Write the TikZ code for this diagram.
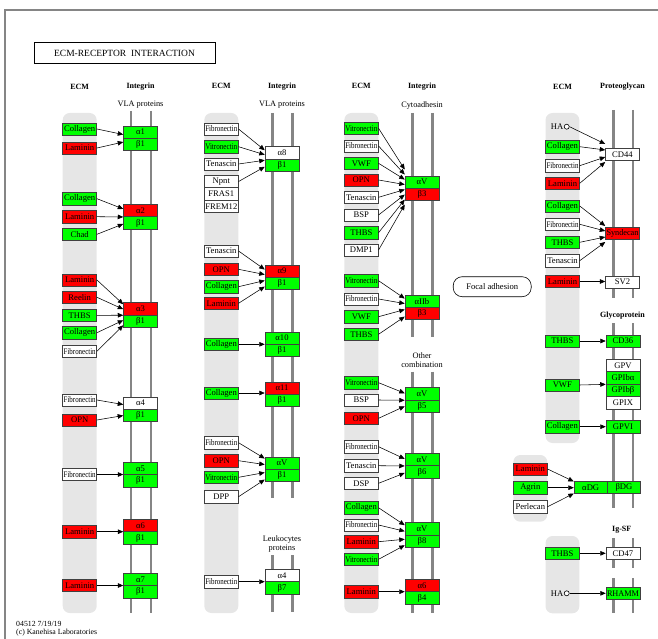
\documentclass[tikz,border=0pt]{standalone}
\usepackage{graphicx}
\usepackage{fontspec}
\setmainfont{Liberation Serif}
\usetikzlibrary{arrows.meta,calc}
\definecolor{kgreen}{HTML}{00FF00}
\definecolor{kred}{HTML}{FF0000}
\definecolor{kband}{HTML}{E6E6E6}
\definecolor{kline}{HTML}{858585}
\definecolor{kedge}{HTML}{404040}
\newsavebox\kfitbox
\newcommand\kfit[1]{\sbox\kfitbox{#1}\ifdim\wd\kfitbox>32pt\resizebox{32pt}{\ht\kfitbox}{\usebox\kfitbox}\else\usebox\kfitbox\fi}
\tikzset{
  kbox/.style={draw=kedge, line width=0.5pt, minimum width=34pt, minimum height=12.4pt, inner sep=0pt, font=\fontsize{8.6}{9}\selectfont},
  gbox/.style={kbox, fill=kgreen},
  rbox/.style={kbox, fill=kred},
  wbox/.style={kbox, fill=white},
  band/.style={fill=kband, draw=none, rounded corners=7pt},
  memb/.style={draw=kline, line width=2.4pt},
  arr/.style={draw=black, line width=0.55pt, -{Triangle[length=5.5pt,width=4.6pt]}},
  hdr/.style={font=\fontsize{8}{9}\selectfont\bfseries, inner sep=0pt},
  sublab/.style={font=\fontsize{8.3}{8.7}\selectfont, align=center, inner sep=0pt},
  hacirc/.style={circle, draw=black, fill=white, line width=0.6pt, minimum size=5pt, inner sep=0pt},
}
\begin{document}
\begin{tikzpicture}[x=1pt,y=-1pt]
\useasboundingbox (0,0) rectangle (658,639);
% frame
\draw[kline, line width=1.3pt] (5,639) -- (5,10) -- (658,10);
% title
\node[draw=black, line width=0.8pt, minimum width=181pt, minimum height=20.6pt, inner sep=0pt, font=\fontsize{9.5}{10}\selectfont] (title) at (124.5,53) {ECM-RECEPTOR\ \ INTERACTION};
% bands
\fill[band] (62.7,113) rectangle (96.7,613);
\fill[band] (204.3,113) rectangle (238.3,613);
\fill[band] (344.3,113) rectangle (378.3,613);
\fill[band] (545.5,113) rectangle (579.3,443);
\fill[band] (513.3,455) rectangle (547.3,521.7);
\fill[band] (545.5,536) rectangle (579.3,613.3);
% membranes
\foreach \x in {131,151}{\draw[memb] (\x,111) -- (\x,613);}
\foreach \x in {272.3,292.3}{\draw[memb] (\x,113) -- (\x,498); \draw[memb] (\x,555) -- (\x,612);}
\foreach \x in {412.3,432.3}{\draw[memb] (\x,113) -- (\x,336.5); \draw[memb] (\x,371.5) -- (\x,613);}
\foreach \x in {613.3,632.7}{\draw[memb] (\x,110) -- (\x,298); \draw[memb] (\x,323) -- (\x,508); \draw[memb] (\x,538) -- (\x,568); \draw[memb] (\x,578) -- (\x,613);}
% headers
\node[hdr] (h1a) at (79.7,87) {ECM};
\node[hdr] (h1b) at (140.5,87) {Integrin};
\node[sublab] (s1) at (140.5,105) {VLA proteins};
\node[hdr] (h2a) at (221.3,86) {ECM};
\node[hdr] (h2b) at (282,87) {Integrin};
\node[sublab] (s2) at (282,105) {VLA proteins};
\node[hdr] (h3a) at (361.3,86) {ECM};
\node[hdr] (h3b) at (422,87) {Integrin};
\node[sublab] (s3) at (422,105.5) {Cytoadhesin};
\node[sublab] (s3b) at (422,360) {Other\\combination};
\node[sublab] (s2b) at (282,544) {Leukocytes\\proteins};
\node[hdr] (h4a) at (562.5,87) {ECM};
\node[hdr] (h4b) at (622.5,87) {Proteoglycan};
\node[hdr] (h4c) at (622.5,316) {Glycoprotein};
\node[hdr] (h4d) at (621.7,529.5) {Ig-SF};
% ---------- column 1 ECM ----------
\node[gbox] (c1a) at (79.7,129) {\kfit{Collagen}};
\node[rbox] (c1b) at (79.7,148) {\kfit{Laminin}};
\node[gbox] (c1c) at (79.7,198.7) {\kfit{Collagen}};
\node[rbox] (c1d) at (79.7,216.7) {\kfit{Laminin}};
\node[gbox] (c1e) at (79.7,234.3) {\kfit{Chad}};
\node[rbox] (c1f) at (79.7,280) {\kfit{Laminin}};
\node[rbox] (c1g) at (79.7,297.3) {\kfit{Reelin}};
\node[gbox] (c1h) at (79.7,315.3) {\kfit{THBS}};
\node[gbox] (c1i) at (79.7,332.7) {\kfit{Collagen}};
\node[wbox] (c1j) at (79.7,351.3) {\kfit{Fibronectin}};
\node[wbox] (c1k) at (79.7,400) {\kfit{Fibronectin}};
\node[rbox] (c1l) at (79.7,420) {\kfit{OPN}};
\node[wbox] (c1m) at (79.7,474.5) {\kfit{Fibronectin}};
\node[rbox] (c1n) at (79.7,531.7) {\kfit{Laminin}};
\node[rbox] (c1o) at (79.7,585.5) {\kfit{Laminin}};
% column 1 integrins
\node[gbox] (i1a) at (140.5,132.1) {α1};
\node[gbox] (i1b) at (140.5,144.5) {β1};
\node[rbox] (i2a) at (140.5,210.5) {α2};
\node[gbox] (i2b) at (140.5,222.9) {β1};
\node[rbox] (i3a) at (140.5,308.8) {α3};
\node[gbox] (i3b) at (140.5,321.2) {β1};
\node[wbox] (i4a) at (140.5,403.1) {α4};
\node[gbox] (i4b) at (140.5,415.5) {β1};
\node[gbox] (i5a) at (140.5,468.3) {α5};
\node[gbox] (i5b) at (140.5,480.7) {β1};
\node[rbox] (i6a) at (140.5,525.5) {α6};
\node[gbox] (i6b) at (140.5,537.9) {β1};
\node[gbox] (i7a) at (140.5,579.3) {α7};
\node[gbox] (i7b) at (140.5,591.7) {β1};
% column 1 arrows
\draw[arr] (c1a.east) -- ($(i1a.south west)+(0,-4)$);
\draw[arr] (c1b.east) -- ($(i1a.south west)+(0,3.5)$);
\draw[arr] (c1c.east) -- ($(i2a.south west)+(0,-8)$);
\draw[arr] (c1d.east) -- ($(i2a.south west)+(0,0)$);
\draw[arr] (c1e.east) -- ($(i2a.south west)+(0,7)$);
\draw[arr] (c1f.east) -- ($(i3a.south west)+(0,-11)$);
\draw[arr] (c1g.east) -- ($(i3a.south west)+(0,-6)$);
\draw[arr] (c1h.east) -- ($(i3a.south west)+(0,0)$);
\draw[arr] (c1i.east) -- ($(i3a.south west)+(0,5)$);
\draw[arr] (c1j.east) -- ($(i3a.south west)+(0,10)$);
\draw[arr] (c1k.east) -- ($(i4a.south west)+(0,-5)$);
\draw[arr] (c1l.east) -- ($(i4a.south west)+(0,6)$);
\draw[arr] (c1m.east) -- (c1m.east -| i5a.west);
\draw[arr] (c1n.east) -- (c1n.east -| i6a.west);
\draw[arr] (c1o.east) -- (c1o.east -| i7a.west);
% ---------- column 2 ECM ----------
\node[wbox] (c2a) at (221.3,129) {\kfit{Fibronectin}};
\node[gbox] (c2b) at (221.3,146.7) {\kfit{Vitronectin}};
\node[wbox] (c2c) at (221.3,164) {\kfit{Tenascin}};
\node[wbox] (c2d) at (221.3,181.5) {\kfit{Npnt}};
\node[wbox] (c2e) at (221.3,193.9) {\kfit{FRAS1}};
\node[wbox] (c2f) at (221.3,206.3) {\kfit{FREM12}};
\node[wbox] (c2g) at (221.3,251) {\kfit{Tenascin}};
\node[rbox] (c2h) at (221.3,269.3) {\kfit{OPN}};
\node[gbox] (c2i) at (221.3,286.7) {\kfit{Collagen}};
\node[rbox] (c2j) at (221.3,303.3) {\kfit{Laminin}};
\node[gbox] (c2k) at (221.3,344.3) {\kfit{Collagen}};
\node[gbox] (c2l) at (221.3,393) {\kfit{Collagen}};
\node[wbox] (c2m) at (221.3,442.7) {\kfit{Fibronectin}};
\node[rbox] (c2n) at (221.3,460.7) {\kfit{OPN}};
\node[gbox] (c2o) at (221.3,477.3) {\kfit{Vitronectin}};
\node[wbox] (c2p) at (221.3,496.7) {\kfit{DPP}};
\node[wbox] (c2q) at (221.3,581.7) {\kfit{Fibronectin}};
% column 2 integrins
\node[wbox] (i8a) at (282,152.8) {α8};
\node[gbox] (i8b) at (282,165.2) {β1};
\node[rbox] (i9a) at (282,271.1) {α9};
\node[gbox] (i9b) at (282,283.5) {β1};
\node[gbox] (i10a) at (282,338.1) {α10};
\node[gbox] (i10b) at (282,350.5) {β1};
\node[rbox] (i11a) at (282,388.1) {α11};
\node[gbox] (i11b) at (282,400.5) {β1};
\node[gbox] (iv1a) at (282,463.1) {αV};
\node[gbox] (iv1b) at (282,475.5) {β1};
\node[wbox] (i47a) at (282,575.5) {α4};
\node[gbox] (i47b) at (282,587.9) {β7};
% column 2 arrows
\draw[arr] (c2a.east) -- ($(i8a.south west)+(0,-9)$);
\draw[arr] (c2b.east) -- ($(i8a.south west)+(0,-4.5)$);
\draw[arr] (c2c.east) -- ($(i8a.south west)+(0,1)$);
\draw[arr] (c2d.east) -- ($(i8a.south west)+(0,7.5)$);
\draw[arr] (c2g.east) -- ($(i9a.south west)+(0,-8)$);
\draw[arr] (c2h.east) -- ($(i9a.south west)+(0,-3)$);
\draw[arr] (c2i.east) -- ($(i9a.south west)+(0,3)$);
\draw[arr] (c2j.east) -- ($(i9a.south west)+(0,9)$);
\draw[arr] (c2k.east) -- (c2k.east -| i10a.west);
\draw[arr] (c2l.east) -- (c2l.east -| i11a.west);
\draw[arr] (c2m.east) -- ($(iv1a.south west)+(0,-11)$);
\draw[arr] (c2n.east) -- ($(iv1a.south west)+(0,-5)$);
\draw[arr] (c2o.east) -- ($(iv1a.south west)+(0,3)$);
\draw[arr] (c2p.east) -- ($(iv1a.south west)+(0,10)$);
\draw[arr] (c2q.east) -- (c2q.east -| i47a.west);
% ---------- column 3 ECM ----------
\node[gbox] (c3a) at (361.3,128.3) {\kfit{Vitronectin}};
\node[wbox] (c3b) at (361.3,146) {\kfit{Fibronectin}};
\node[gbox] (c3c) at (361.3,163.3) {\kfit{VWF}};
\node[rbox] (c3d) at (361.3,180) {\kfit{OPN}};
\node[wbox] (c3e) at (361.3,197.3) {\kfit{Tenascin}};
\node[wbox] (c3f) at (361.3,215) {\kfit{BSP}};
\node[gbox] (c3g) at (361.3,232.7) {\kfit{THBS}};
\node[wbox] (c3h) at (361.3,250) {\kfit{DMP1}};
\node[gbox] (c3i) at (361.3,280.7) {\kfit{Vitronectin}};
\node[wbox] (c3j) at (361.3,299) {\kfit{Fibronectin}};
\node[gbox] (c3k) at (361.3,316.7) {\kfit{VWF}};
\node[gbox] (c3l) at (361.3,334.3) {\kfit{THBS}};
\node[gbox] (c3m) at (361.3,382.7) {\kfit{Vitronectin}};
\node[wbox] (c3n) at (361.3,400) {\kfit{BSP}};
\node[rbox] (c3o) at (361.3,418.3) {\kfit{OPN}};
\node[wbox] (c3p) at (361.3,446.7) {\kfit{Fibronectin}};
\node[wbox] (c3q) at (361.3,465.7) {\kfit{Tenascin}};
\node[wbox] (c3r) at (361.3,483.3) {\kfit{DSP}};
\node[gbox] (c3s) at (361.3,507.7) {\kfit{Collagen}};
\node[wbox] (c3t) at (361.3,525) {\kfit{Fibronectin}};
\node[rbox] (c3u) at (361.3,541.7) {\kfit{Laminin}};
\node[gbox] (c3v) at (361.3,559.3) {\kfit{Vitronectin}};
\node[rbox] (c3w) at (361.3,591.7) {\kfit{Laminin}};
% column 3 integrins
\node[gbox] (j1a) at (422,182.1) {αV};
\node[rbox] (j1b) at (422,194.5) {β3};
\node[gbox] (j2a) at (422,301.1) {αIIb};
\node[rbox] (j2b) at (422,313.5) {β3};
\node[gbox] (j3a) at (422,393.8) {αV};
\node[gbox] (j3b) at (422,406.2) {β5};
\node[gbox] (j4a) at (422,459.5) {αV};
\node[gbox] (j4b) at (422,471.9) {β6};
\node[gbox] (j5a) at (422,528.8) {αV};
\node[gbox] (j5b) at (422,541.2) {β8};
\node[rbox] (j6a) at (422,585.5) {α6};
\node[gbox] (j6b) at (422,597.9) {β4};
% column 3 arrows
\draw[arr] (c3a.east) -- ($(j1a.south west)+(0,-19)$);
\draw[arr] (c3b.east) -- ($(j1a.south west)+(0,-14)$);
\draw[arr] (c3c.east) -- ($(j1a.south west)+(0,-9)$);
\draw[arr] (c3d.east) -- ($(j1a.south west)+(0,-4)$);
\draw[arr] (c3e.east) -- ($(j1a.south west)+(0,1)$);
\draw[arr] (c3f.east) -- ($(j1a.south west)+(0,6)$);
\draw[arr] (c3g.east) -- ($(j1a.south west)+(0,11)$);
\draw[arr] (c3h.east) -- ($(j1a.south west)+(0,16)$);
\draw[arr] (c3i.east) -- ($(j2a.south west)+(0,-9)$);
\draw[arr] (c3j.east) -- ($(j2a.south west)+(0,-4)$);
\draw[arr] (c3k.east) -- ($(j2a.south west)+(0,2)$);
\draw[arr] (c3l.east) -- ($(j2a.south west)+(0,9)$);
\draw[arr] (c3m.east) -- ($(j3a.south west)+(0,-7)$);
\draw[arr] (c3n.east) -- ($(j3a.south west)+(0,0)$);
\draw[arr] (c3o.east) -- ($(j3a.south west)+(0,6)$);
\draw[arr] (c3p.east) -- ($(j4a.south west)+(0,-7)$);
\draw[arr] (c3q.east) -- ($(j4a.south west)+(0,0)$);
\draw[arr] (c3r.east) -- ($(j4a.south west)+(0,7)$);
\draw[arr] (c3s.east) -- ($(j5a.south west)+(0,-10)$);
\draw[arr] (c3t.east) -- ($(j5a.south west)+(0,-4)$);
\draw[arr] (c3u.east) -- ($(j5a.south west)+(0,4)$);
\draw[arr] (c3v.east) -- ($(j5a.south west)+(0,10)$);
\draw[arr] (c3w.east) -- (c3w.east -| j6a.west);
% ---------- column 4: proteoglycans ----------
\node[inner sep=0pt, font=\fontsize{8.6}{9}\selectfont, anchor=east] (ha1t) at (563.5,126.7) {HA};
\node[hacirc] (ha1) at (566.7,126.7) {};
\node[gbox] (c4a) at (562.5,146.7) {\kfit{Collagen}};
\node[wbox] (c4b) at (562.5,165.7) {\kfit{Fibronectin}};
\node[rbox] (c4c) at (562.5,183.3) {\kfit{Laminin}};
\node[gbox] (c4d) at (562.5,206) {\kfit{Collagen}};
\node[wbox] (c4e) at (562.5,224.3) {\kfit{Fibronectin}};
\node[gbox] (c4f) at (562.5,242.3) {\kfit{THBS}};
\node[wbox] (c4g) at (562.5,260.7) {\kfit{Tenascin}};
\node[rbox] (c4h) at (562.5,281.5) {\kfit{Laminin}};
\node[wbox] (pcd44) at (622.5,154.5) {CD44};
\node[rbox] (psyn) at (622.5,233) {\kfit{Syndecan}};
\node[wbox] (psv2) at (622.5,282) {SV2};
\draw[arr] (ha1.east) -- ($(pcd44.west)+(0,-10.5)$);
\draw[arr] (c4a.east) -- ($(pcd44.west)+(0,-4.5)$);
\draw[arr] (c4b.east) -- ($(pcd44.west)+(0,2.5)$);
\draw[arr] (c4c.east) -- ($(pcd44.west)+(0,7.5)$);
\draw[arr] (c4d.east) -- ($(psyn.west)+(0,-7)$);
\draw[arr] (c4e.east) -- ($(psyn.west)+(0,-2)$);
\draw[arr] (c4f.east) -- ($(psyn.west)+(0,4)$);
\draw[arr] (c4g.east) -- ($(psyn.west)+(0,9)$);
\draw[arr] (c4h.east) -- (c4h.east -| psv2.west);
% focal adhesion
\node[draw=black, line width=0.6pt, rounded corners=9pt, minimum width=78pt, minimum height=20pt, inner sep=0pt, font=\fontsize{8.6}{9}\selectfont] (focal) at (492.2,286.7) {Focal adhesion};
% ---------- glycoproteins ----------
\node[gbox] (g1) at (562.3,341) {\kfit{THBS}};
\node[gbox] (g2) at (562.3,385) {\kfit{VWF}};
\node[gbox] (g3) at (562.3,426.7) {\kfit{Collagen}};
\node[gbox] (gcd36) at (623,341) {CD36};
\node[wbox] (ggpv) at (623,365.5) {GPV};
\node[gbox] (ggpiba) at (623,377.9) {\kfit{GPIbα}};
\node[gbox] (ggpibb) at (623,390.3) {\kfit{GPIbβ}};
\node[wbox] (ggpix) at (623,402.7) {GPIX};
\node[gbox] (ggpvi) at (623,426.7) {GPVI};
\draw[arr] (g1.east) -- (g1.east -| gcd36.west);
\draw[arr] (g2.east) -- (ggpiba.south west);
\draw[arr] (g3.east) -- (g3.east -| ggpvi.west);
% ---------- dystroglycan ----------
\node[rbox] (d1) at (530.3,469) {\kfit{Laminin}};
\node[gbox] (d2) at (530.3,487.7) {\kfit{Agrin}};
\node[wbox] (d3) at (530.3,506.7) {\kfit{Perlecan}};
\node[gbox, minimum width=33.3pt] (dga) at (590.7,487.5) {αDG};
\node[gbox, minimum width=33.3pt] (dgb) at (624,487.5) {βDG};
\draw[arr] (d1.east) -- ($(dga.west)+(0,-6)$);
\draw[arr] (d2.east) -- (d2.east -| dga.west);
\draw[arr] (d3.east) -- ($(dga.west)+(0,6)$);
% ---------- Ig-SF ----------
\node[gbox] (t1) at (562.3,553.3) {\kfit{THBS}};
\node[wbox] (cd47) at (623,553.3) {CD47};
\node[inner sep=0pt, font=\fontsize{8.6}{9}\selectfont, anchor=east] (ha2t) at (563.5,593.3) {HA};
\node[hacirc] (ha2) at (566.7,593.3) {};
\node[gbox] (rhamm) at (623,593.3) {\kfit{RHAMM}};
\draw[arr] (t1.east) -- (t1.east -| cd47.west);
\draw[arr] (ha2.east) -- (ha2.east -| rhamm.west);
% footer
\node[anchor=west, inner sep=0pt, font=\fontsize{7.8}{8}\selectfont] (foot1) at (16,623.5) {04512 7/19/19};
\node[anchor=west, inner sep=0pt, font=\fontsize{7.8}{8}\selectfont] (foot2) at (16,632.5) {(c) Kanehisa Laboratories};
\end{tikzpicture}
\end{document}
